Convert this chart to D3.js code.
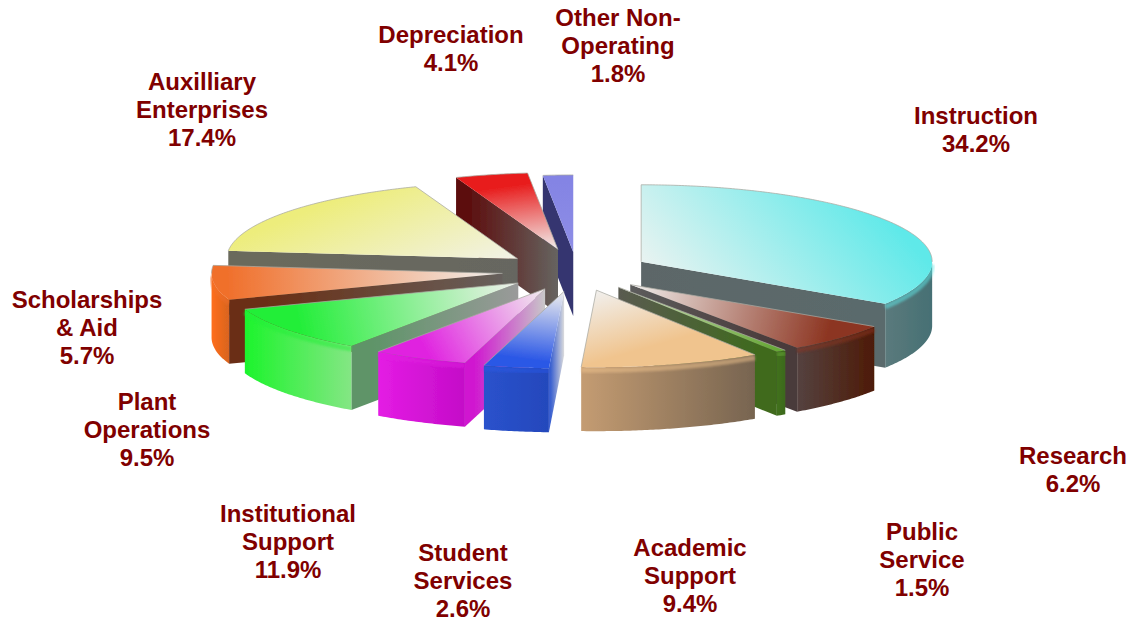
<!DOCTYPE html>
<html><head><meta charset="utf-8">
<style>html,body{margin:0;padding:0;background:#fff}svg{display:block}
text{font-family:"Liberation Sans",Arial,sans-serif;font-weight:700;font-size:24px;fill:#800000;text-anchor:middle}</style>
<script src="https://cdn.jsdelivr.net/npm/d3@7/dist/d3.min.js"></script>
</head><body><svg id="c" width="1135" height="623"></svg>
<script>
// Data
const categories=["Instruction","Research","Public Service","Academic Support","Student Services","Institutional Support","Plant Operations","Scholarships & Aid","Auxilliary Enterprises","Depreciation","Other Non-Operating"];
const labelValues=[34.2,6.2,1.5,9.4,2.6,11.9,9.5,5.7,17.4,4.1,1.8];
// The share of the circle each slice visibly takes in the picture, clockwise from 12 o'clock (degrees)
const drawnSweep=[123,22,2,36,13,19,35,26,63.5,14.5,6];
const labelLines=[["Instruction"],["Research"],["Public","Service"],["Academic","Support"],["Student","Services"],["Institutional","Support"],["Plant","Operations"],["Scholarships","& Aid"],["Auxilliary","Enterprises"],["Depreciation"],["Other Non-","Operating"]];

// Layout and style
const W=1135,H=623,CX=577,CY=271,RX=291,RY=77,DEPTH=64;
const explode=[73,74,74,75,78,74,74,75,75,83,72];
const topColor=["#5fe9e9","#8c3420","#68a838","#f0c48e","#2c58e6","#e020e0","#22ee38","#f0702c","#eded7c","#e81c1c","#8484e4"];
const washStart=["#e9f3f1","#f1f0ee","#d8e4c8","#f1f0ee","#f1f0ee","#f1f0ee","#f1f0ee","#f1f0ee","#f2f2e8","#f1f0ee","#8e8ee6"];
const wallLeft=["#5b7a7c","#544240","#42701f","#c49c72","#2a52cc","#e41ce4","#1cf42c","#ff6e1c","#6c6c60","#5a1010","#34366f"];
const wallRight=["#467074","#4e1a06","#3c6a1c","#776450","#2448bc","#c40cc8","#84e684","#d86420","#6c6c60","#5a1010","#34366f"];
const faceOuter=["#5a6a6c","#4a3a3a","#3f6a1e","#777","#3a60d0","#d018d0","#5e9468","#6a2e14","#6a6a5c","#5c0e0e","#34366f"];
const faceInner=["#5d6668","#5c5c5c","#5a5a50","#666","#dcdcdc","#c8c8c8","#9a9a9a","#66605c","#666660","#666460","#34366f"];
// Direction of the pale-to-colour wash across each top face; null follows the slice's middle
const washVector=[[170,-150],null,null,[20,70],[-10,75],null,null,null,[-48,-120],[-10,-73],[0,-74]];
const paintOrder=[0,1,2,3,10,9,8,7,6,5,4];
const labelX=[976,1073,922,690,463,288,147,87,202,451,618];
const labelY=[124,464,540,556,561,522,410,308,90,43,26];
const lineStep=27.8;

const svg=d3.select("#c");
const defs=svg.append("defs");
defs.append("filter").attr("id","soft").attr("x","-5%").attr("y","-5%").attr("width","110%").attr("height","110%")
  .append("feGaussianBlur").attr("stdDeviation",0.55);
defs.append("filter").attr("id","bevel").attr("x","-5%").attr("y","-30%").attr("width","110%").attr("height","160%")
  .append("feGaussianBlur").attr("stdDeviation",1.2);

const sx=d3.scaleLinear().domain([-1,1]).range([-RX,RX]);
const sy=d3.scaleLinear().domain([-1,1]).range([-RY,RY]);
const arcs=d3.pie().sort(null).value(d=>d)(drawnSweep);
const line=d3.line();
const pt=(o,t,dy=0)=>[o[0]+sx(Math.sin(t)),o[1]+sy(-Math.cos(t))+dy];
const samples=(a,b)=>{const s=d3.range(a,b,0.01);s.push(b);return s;};
const grad=(id,p,q,stops)=>{
  const g=defs.append("linearGradient").attr("id",id).attr("gradientUnits","userSpaceOnUse")
    .attr("x1",p[0]).attr("y1",p[1]).attr("x2",q[0]).attr("y2",q[1]);
  stops.forEach(s=>g.append("stop").attr("offset",s[0]).attr("stop-color",s[1]));
  return `url(#${id})`;
};
const chart=svg.append("g").attr("filter","url(#soft)");
const PI=Math.PI;
const edgeStyle=s=>s.attr("fill","none").attr("stroke","#a8a8a0").attr("stroke-width",1).attr("stroke-opacity",.75);

paintOrder.forEach(i=>{
  const a=arcs[i].startAngle,b=arcs[i].endAngle,m=(a+b)/2;
  const apex=[CX+sx(Math.sin(m))*explode[i]/RX,CY+sy(-Math.cos(m))*explode[i]/RX];
  const g=chart.append("g");
  const face=(t,key)=>{
    const outer=pt(apex,t);
    const poly=[apex,outer,[outer[0],outer[1]+DEPTH],[apex[0],apex[1]+DEPTH]];
    g.append("path").attr("d",line(poly)+"Z")
      .attr("fill",grad(`f${key}${i}`,[outer[0],0],[apex[0],0],[[0,faceOuter[i]],[0.12,faceOuter[i]],[1,faceInner[i]]]));
  };
  const showA=Math.sin(a)<0, showB=Math.sin(b)>0;
  if(showA) face(a,"a");
  if(showB) face(b,"b");
  // outer wall: only the front half of the rim faces the viewer
  const wa=Math.max(a,PI/2),wb=Math.min(b,3*PI/2);
  if(wb>wa){
    const s=samples(wa,wb);
    const upper=s.map(t=>pt(apex,t));
    const lower=s.slice().reverse().map(t=>pt(apex,t,DEPTH));
    const xs=d3.extent(upper,d=>d[0]);
    g.append("path").attr("d",line(upper.concat(lower))+"Z")
      .attr("fill",grad(`w${i}`,[xs[0],0],[xs[1],0],[[0,wallLeft[i]],[1,wallRight[i]]]));
    g.append("path").attr("d",line(s.map(t=>pt(apex,t,3)))).attr("fill","none")
      .attr("stroke",topColor[i]).attr("stroke-width",5).attr("opacity",.5).attr("filter","url(#bevel)");
  }
  // top face
  const rim=samples(a,b).map(t=>pt(apex,t));
  const far=washVector[i]?[apex[0]+washVector[i][0],apex[1]+washVector[i][1]]:pt(apex,m);
  g.append("path").attr("d",line([apex].concat(rim))+"Z")
    .attr("fill",grad(`t${i}`,apex,far,[[0,washStart[i]],[0.95,topColor[i]],[1,topColor[i]]]));
  // thin grey line on the edges that have no wall below them
  if(a<PI/2) g.append("path").attr("d",line(samples(a,Math.min(b,PI/2)).map(t=>pt(apex,t)))).call(edgeStyle);
  if(b>3*PI/2) g.append("path").attr("d",line(samples(Math.max(a,3*PI/2),b).map(t=>pt(apex,t)))).call(edgeStyle);
  if(!showA) g.append("path").attr("d",line([apex,pt(apex,a)])).call(edgeStyle);
  if(!showB) g.append("path").attr("d",line([apex,pt(apex,b)])).call(edgeStyle);
});

const labels=svg.append("g");
categories.forEach((c,i)=>{
  const rows=labelLines[i].concat(labelValues[i].toFixed(1)+"%");
  const t=labels.append("text").attr("x",labelX[i]).attr("y",labelY[i]);
  rows.forEach((r,k)=>t.append("tspan").attr("x",labelX[i]).attr("y",labelY[i]+k*lineStep).text(r));
});
</script></body></html>
